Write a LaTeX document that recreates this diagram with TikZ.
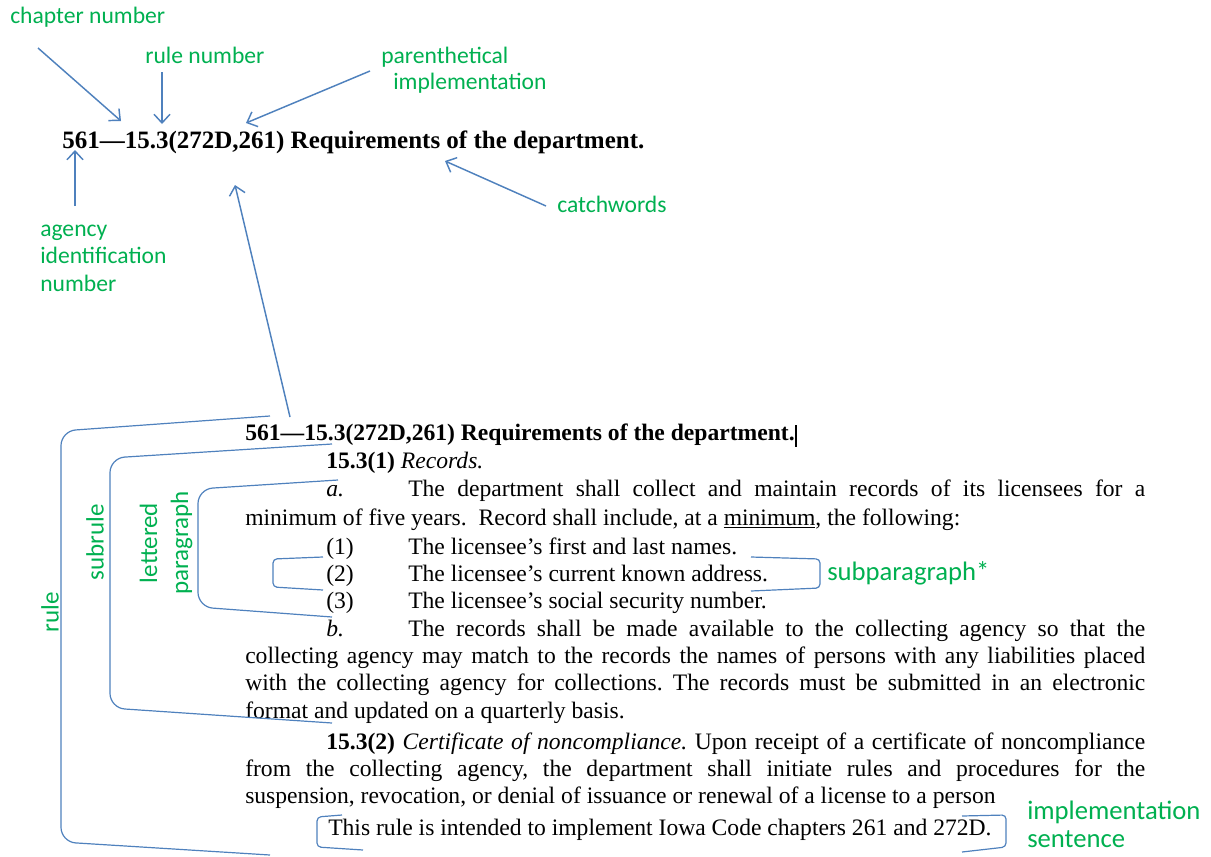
\documentclass[tikz,border=0pt]{standalone}
\usepackage{fontspec}
\setmainfont{Liberation Serif}
\newfontfamily\calfnt{Carlito}
\usetikzlibrary{arrows.meta}
\newlength\pxu \setlength\pxu{0.75pt}
\definecolor{lblgreen}{HTML}{00B050}
\definecolor{arrblue}{HTML}{4F81BD}
\newcommand\bodyfnt{\fontsize{17.7}{21}\selectfont}
\newcommand\jl[2]{\makebox[#1\pxu][s]{#2}}
\frenchspacing
\begin{document}
\begin{tikzpicture}[x=0.75pt,y=-0.75pt,
  body/.style={anchor=base west, inner sep=0pt, font=\bodyfnt},
  lab/.style={anchor=base west, inner sep=0pt, text=lblgreen, font=\calfnt\fontsize{17.7}{21}\selectfont},
  bigl/.style={anchor=base west, inner sep=0pt, text=lblgreen, font=\calfnt\fontsize{20}{24}\selectfont},
  rotl/.style={inner sep=0pt, text=lblgreen, rotate=90, align=center, font=\calfnt\fontsize{18.75}{23.25}\selectfont},
  arr/.style={draw=arrblue, line width=1.1pt, -{Straight Barb[length=6.5pt,width=12pt]}},
  brk/.style={draw=arrblue, line width=0.9pt, rounded corners=11pt},
  sbrk/.style={draw=arrblue, line width=0.9pt, rounded corners=3pt}]
\useasboundingbox (0,0) rectangle (1211,857);
% ---------- top annotated heading ----------
\node[body, font=\fontsize{18.75}{22}\selectfont\bfseries] (t1) at (62,148) {561—15.3(272D,261) Requirements of the department.};
\node[lab] (chap) at (10,23) {chapter number};
\node[lab] (rulen) at (145,63) {rule number};
\node[lab] (par1) at (381,63) {parenthetical};
\node[lab] (par2) at (393,89) {implementation};
\node[lab] (catch) at (557,212) {catchwords};
\node[lab] (ag1) at (40,236) {agency};
\node[lab] (ag2) at (40,263) {identification};
\node[lab] (ag3) at (40,291) {number};
\coordinate (chapS) at (38,48);   \coordinate (chapE) at (121,121);
\coordinate (ruleS) at (162,72);  \coordinate (ruleE) at (162,124);
\coordinate (parS) at (370,71);   \coordinate (parE) at (246,123);
\coordinate (agS) at (75,206);    \coordinate (agE) at (75,150);
\coordinate (catS) at (546,206);  \coordinate (catE) at (445,161);
\coordinate (bigS) at (290,417);  \coordinate (bigE) at (235,185);
\draw[arr] (chapS) -- (chapE);
\draw[arr] (ruleS) -- (ruleE);
\draw[arr] (parS) -- (parE);
\draw[arr] (agS) -- (agE);
\draw[arr] (catS) -- (catE);
\draw[arr] (bigS) -- (bigE);
% ---------- rule text ----------
\node[body, font=\bodyfnt\bfseries] (l1) at (245,440) {561—15.3(272D,261) Requirements of the department.};
\draw[black, line width=0.8pt] (796,425) -- (796,447);
\node[body] (l2) at (326,468) {\textbf{15.3(1)} \textit{Records.}};
\node[body] (l3a) at (326,496) {\textit{a.}};
\node[body] (l3) at (408,496) {\jl{737}{The department shall collect and maintain records of its licensees for a}};
\node[body] (l4) at (245,525) {minimum of five years.\ \ Record shall include, at a \underline{minimum}, the following:};
\node[body] (l5a) at (326,554) {(1)};
\node[body] (l5) at (408,554) {The licensee’s first and last names.};
\node[body] (l6a) at (326,581) {(2)};
\node[body] (l6) at (408,581) {The licensee’s current known address.};
\node[body] (l7a) at (326,608) {(3)};
\node[body] (l7) at (408,608) {The licensee’s social security number.};
\node[body] (l8a) at (326,636) {\textit{b.}};
\node[body] (l8) at (408,636) {\jl{737}{The records shall be made available to the collecting agency so that the}};
\node[body] (l9) at (245,663) {\jl{900}{collecting agency may match to the records the names of persons with any liabilities placed}};
\node[body] (l10) at (245,690) {\jl{900}{with the collecting agency for collections. The records must be submitted in an electronic}};
\node[body] (l11) at (245,718) {format and updated on a quarterly basis.};
\node[body] (l12) at (326,749) {\jl{819}{\textbf{15.3(2)} \textit{Certificate of noncompliance.} Upon receipt of a certificate of noncompliance}};
\node[body] (l13) at (245,776) {\jl{900}{from the collecting agency, the department shall initiate rules and procedures for the}};
\node[body] (l14) at (245,803) {suspension, revocation, or denial of issuance or renewal of a license to a person};
\node[body] (l15) at (328,835) {This rule is intended to implement Iowa Code chapters 261 and 272D.};
% ---------- brackets ----------
\draw[brk] (270,416) -- (61,431) -- (61,842) -- (270,855);
\draw[brk] (332,444) -- (110,458) -- (110,708) -- (332,723);
\draw[brk] (338,480) -- (198,489) -- (198,607) -- (332,617);
\draw[sbrk] (323,557) -- (273,559) -- (273,587) -- (323,590);
\draw[sbrk] (751,557) -- (820,559) -- (820,588) -- (751,591);
\draw[sbrk] (342,815) -- (317,817) -- (317,847) -- (363,850);
\draw[sbrk] (962,816) -- (1006,815) -- (1006,847) -- (962,852);
% ---------- bracket labels ----------
\node[rotl] (rl) at (50,612) {rule};
\node[rotl] (srl) at (95,542) {subrule};
\node[rotl] (lpl) at (166,543) {lettered\\paragraph};
\node[bigl] (spl) at (827,580) {subparagraph*};
\node[bigl] (im1) at (1027,819) {implementation};
\node[bigl] (im2) at (1027,847) {sentence};
\end{tikzpicture}
\end{document}
